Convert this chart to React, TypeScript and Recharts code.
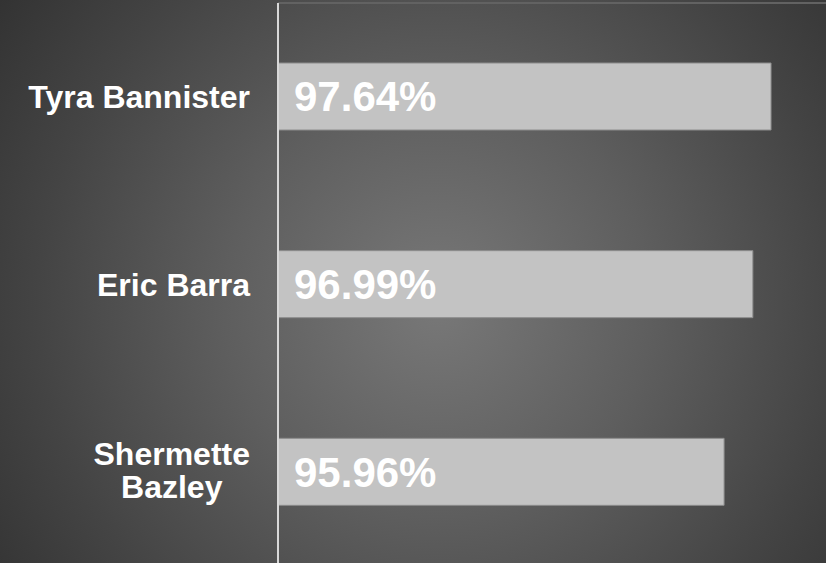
import { BarChart, Bar, XAxis, YAxis, LabelList } from "recharts";

const names = ["Tyra Bannister", "Eric Barra", "Shermette Bazley"];
const scores = [97.64, 96.99, 95.96];

const data = names.map((name, i) => ({ name, score: scores[i] }));

const FONT = "'Liberation Sans', Arial, sans-serif";
const TICK_SIZE = 32;
const MAX_LABEL_W = 245;

let ctx: CanvasRenderingContext2D | null = null;
function textWidth(s: string) {
  if (!ctx) ctx = document.createElement("canvas").getContext("2d");
  if (!ctx) return s.length * TICK_SIZE * 0.55;
  ctx.font = `bold ${TICK_SIZE}px ${FONT}`;
  return ctx.measureText(s).width;
}

function wrap(label: string) {
  if (textWidth(label) <= MAX_LABEL_W) return [label];
  const lines: string[] = [];
  let cur = "";
  for (const w of label.split(" ")) {
    const next = cur ? cur + " " + w : w;
    if (cur && textWidth(next) > MAX_LABEL_W) {
      lines.push(cur);
      cur = w;
    } else cur = next;
  }
  if (cur) lines.push(cur);
  return lines;
}

function NameTick({ x, y, payload }: any) {
  const lines = wrap(String(payload.value));
  const lh = 33;
  const common = {
    fill: "#ffffff",
    fontSize: TICK_SIZE,
    fontWeight: 700,
    fontFamily: FONT,
  };
  if (lines.length === 1) {
    return (
      <text x={x} y={y} dy="0.35em" textAnchor="end" {...common}>
        {lines[0]}
      </text>
    );
  }
  const w = Math.max(...lines.map(textWidth));
  const cx = x - w / 2;
  const top = y + TICK_SIZE * 0.35 - ((lines.length - 1) * lh) / 2 - 2;
  return (
    <text textAnchor="middle" {...common}>
      {lines.map((l, i) => (
        <tspan key={i} x={cx} y={top + i * lh}>
          {l}
        </tspan>
      ))}
    </text>
  );
}

export default function App() {
  return (
    <div
      style={{
        position: "absolute",
        left: 0,
        top: 0,
        width: 826,
        height: 563,
        overflow: "hidden",
        background:
          "radial-gradient(circle farthest-corner at 53% 54%, #787878 0%, #5e5e5e 40%, #444 75%, #333 100%)",
      }}
    >
      <BarChart
        width={837}
        height={566}
        data={data}
        layout="vertical"
        margin={{ top: 1, right: 0, bottom: 0, left: 0 }}
        barSize={67}
      >
        <XAxis
          type="number"
          orientation="top"
          domain={[80, 100]}
          tick={false}
          tickLine={false}
          axisLine={{ stroke: "#626262", strokeWidth: 2 }}
          height={2}
        />
        <YAxis
          type="category"
          dataKey="name"
          width={278}
          tickSize={0}
          tickMargin={28}
          tickLine={false}
          axisLine={{ stroke: "#d8d8d8", strokeWidth: 2 }}
          tick={<NameTick />}
          interval={0}
        />
        <Bar
          dataKey="score"
          fill="#c3c3c3"
          stroke="#8c8c8c"
          strokeWidth={1}
          isAnimationActive={false}
        >
          <LabelList
            dataKey="score"
            position="insideLeft"
            offset={16}
            formatter={(v: any) => `${Number(v).toFixed(2)}%`}
            fill="#ffffff"
            fontSize={42}
            fontWeight={700}
            fontFamily={FONT}
          />
        </Bar>
      </BarChart>
    </div>
  );
}
